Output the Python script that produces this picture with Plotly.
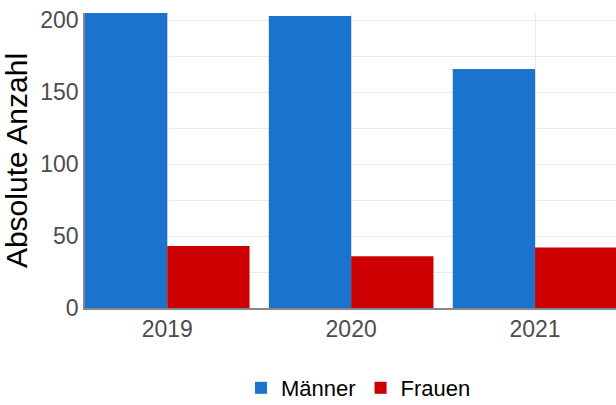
import plotly.graph_objects as go

years = ["2019", "2020", "2021"]
maenner = [205, 203, 166]
frauen = [43, 36, 42]

fig = go.Figure()
fig.add_trace(go.Bar(x=years, y=maenner, name="Männer", marker_color="#1a73cc", marker_line_width=0))
fig.add_trace(go.Bar(x=years, y=frauen, name="Frauen", marker_color="#cc0000", marker_line_width=0))

fig.update_layout(
    width=616, height=405,
    margin=dict(l=85, r=0, t=13, b=97, autoexpand=False),
    barmode="group", bargap=0.105, bargroupgap=0,
    plot_bgcolor="white", paper_bgcolor="white",
    font=dict(family="Liberation Sans, Arial, sans-serif", color="#4d4d4d", size=23),
    legend=dict(orientation="h", x=0.515, xanchor="center", y=-0.2, yanchor="top",
                font=dict(color="black", size=22), itemwidth=30),
    showlegend=True,
)
fig.update_xaxes(
    range=[-0.447, 2.44], showgrid=True, gridcolor="#ebebeb", gridwidth=1,
    showline=True, linecolor="#888888", linewidth=1.5, ticks="", tickfont=dict(size=23, color="#4d4d4d"),
)
fig.update_yaxes(
    range=[0, 205], tickvals=[0, 50, 100, 150, 200], showgrid=True, gridcolor="#ebebeb", gridwidth=1,
    minor=dict(dtick=25, showgrid=True, gridcolor="#ebebeb", gridwidth=1),
    showline=True, linecolor="#888888", linewidth=1.5, ticks="", zeroline=False,
    title=dict(text="Absolute Anzahl", font=dict(size=30, color="black"), standoff=6),
    tickfont=dict(size=23, color="#4d4d4d"),
)
fig.write_html("out.html", post_script="document.body.style.margin='0';",
               config={"displayModeBar": False})
